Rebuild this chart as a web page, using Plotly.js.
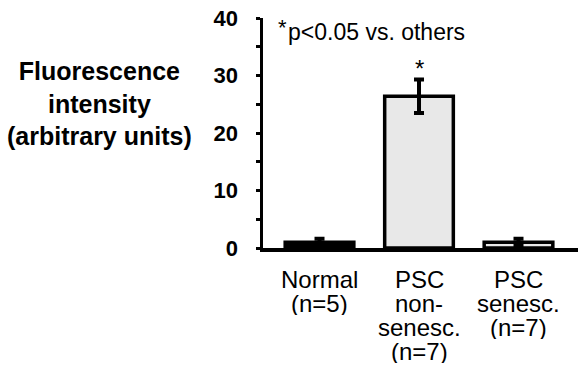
<!DOCTYPE html>
<html>
<head>
<meta charset="utf-8">
<script src="https://cdn.plot.ly/plotly-3.0.1.min.js"></script>
<style>html,body{margin:0;padding:0;background:#fff;}#chart{width:578px;height:384px;}</style>
</head>
<body>
<div id="chart"></div>
<script>
// Data
var categories = ['Normal', 'PSC non-senesc.', 'PSC senesc.'];
var labelLines = [
  ['Normal', '(n=5)'],
  ['PSC', 'non-', 'senesc.', '(n=7)'],
  ['PSC', 'senesc.', '(n=7)']
];
var means = [1.0, 26.4, 1.0];
var errors = [0.6, 2.9, 0.6];
var barColors = ['#000000', '#e8e8e8', '#e8e8e8'];
var sigMarks = ['', '*', ''];
var yTickVals = [0, 10, 20, 30, 40];
var yTitleLines = ['Fluorescence', 'intensity', '(arbitrary units)'];
var noteStar = '*';
var noteText = 'p&lt;0.05 vs. others';

// Layout geometry (pixels)
var L = 263, R = 0, T = 18, B = 136;
var W = 578, H = 384;
var plotW = W - L - R, plotH = H - T - B;
function px2x(px) { return (px - L) / plotW; }
function py2y(py) { return (H - B - py) / plotH; }
var FONT = 'Liberation Sans, Arial, sans-serif';

var trace = {
  type: 'bar',
  x: categories,
  y: means,
  width: 0.69,
  marker: { color: barColors, line: { color: '#000', width: 3.5 } },
  error_y: { type: 'data', array: errors, visible: true, color: '#000', thickness: 4, width: 5 },
  hoverinfo: 'none'
};

var annotations = [];
// y title
annotations.push({
  xref: 'paper', yref: 'paper', x: px2x(100), y: py2y(103),
  xanchor: 'center', yanchor: 'middle', showarrow: false, align: 'center',
  text: yTitleLines.join('<br>'),
  font: { family: FONT, size: 25, color: '#000', weight: 'bold' }
});
// note
annotations.push({
  xref: 'paper', yref: 'paper', x: px2x(276), y: py2y(27),
  xanchor: 'left', yanchor: 'middle', showarrow: false,
  text: noteStar,
  font: { family: FONT, size: 22, color: '#000' }
});
annotations.push({
  xref: 'paper', yref: 'paper', x: px2x(286), y: py2y(32),
  xanchor: 'left', yanchor: 'middle', showarrow: false,
  text: noteText,
  font: { family: FONT, size: 23, color: '#000' }
});
// significance marks
for (var i = 0; i < categories.length; i++) {
  if (sigMarks[i]) {
    annotations.push({
      xref: 'x', yref: 'y', x: categories[i], y: means[i] + errors[i],
      xanchor: 'center', yanchor: 'bottom', showarrow: false, yshift: -4,
      text: sigMarks[i],
      font: { family: FONT, size: 24, color: '#000' }
    });
  }
}
// category labels, line by line
var rowCenters = [279, 303, 327, 351];
for (var i = 0; i < categories.length; i++) {
  for (var j = 0; j < labelLines[i].length; j++) {
    annotations.push({
      xref: 'x', yref: 'paper', x: categories[i], y: py2y(rowCenters[j]),
      xanchor: 'center', yanchor: 'middle', showarrow: false,
      height: 24, borderpad: 0,
      text: labelLines[i][j],
      font: { family: FONT, size: 24, color: '#000' }
    });
  }
}

var layout = {
  width: W, height: H,
  margin: { l: L, r: R, t: T, b: B, pad: 0 },
  paper_bgcolor: '#fff', plot_bgcolor: '#fff',
  showlegend: false,
  xaxis: {
    type: 'category', range: [-0.568, 2.598], showticklabels: false, ticks: '',
    showline: true, linecolor: '#000', linewidth: 4, showgrid: false, zeroline: false, fixedrange: true
  },
  yaxis: {
    range: [0, 40], tickvals: yTickVals, ticks: 'outside', ticklen: 4, tickwidth: 3, tickcolor: '#000',
    minor: { dtick: 5, ticks: 'outside', ticklen: 4, tickwidth: 3, tickcolor: '#000' },
    showline: true, linecolor: '#000', linewidth: 3.5, showgrid: false, zeroline: false,
    ticklabelstandoff: 13,
    tickfont: { family: FONT, size: 22, color: '#000', weight: 'bold' },
    fixedrange: true
  },
  annotations: annotations
};

Plotly.newPlot('chart', [trace], layout, { displayModeBar: false, staticPlot: true });
</script>
</body>
</html>
